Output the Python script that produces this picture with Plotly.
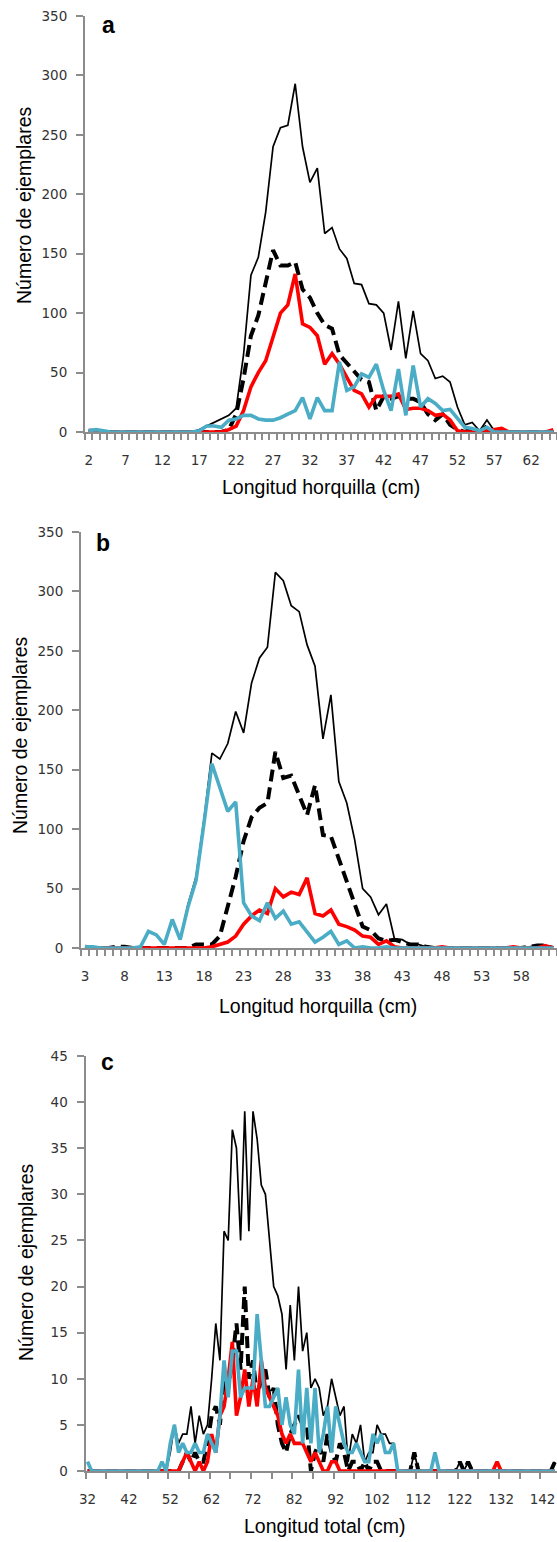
import plotly.graph_objects as go

# ---------------- Panel a (Longitud horquilla, 2..65 cm) ----------------
x_a = list(range(2, 66))
total_a = [2, 2, 0, 0, 0, 0, 0, 0, 0, 0,
           0, 0, 0, 0, 0, 2, 5, 8, 11, 14,
           20, 65, 132, 147, 185, 240, 256, 258, 293, 240,
           210, 222, 167, 172, 154, 146, 125, 124, 108, 107,
           100, 69, 110, 62, 102, 66, 60, 45, 47, 42,
           21, 6, 8, 1, 10, 1, 2, 0, 0, 0,
           0, 0, 0, 1]
dashed_a = [0, 0, 0, 0, 0, 0, 0, 0, 0, 0,
            0, 0, 0, 0, 0, 0, 0, 0, 0, 2,
            15, 45, 81, 98, 125, 153, 140, 140, 143, 120,
            113, 100, 90, 87, 65, 58, 52, 44, 42, 18,
            30, 28, 30, 28, 28, 25, 15, 10, 15, 6,
            2, 0, 3, 0, 5, 0, 0, 0, 0, 0,
            0, 0, 0, 0]
red_a = [0, 0, 0, 0, 0, 0, 0, 0, 0, 0,
         0, 0, 0, 0, 0, 0, 0, 0, 0, 2,
         5, 18, 38, 50, 60, 80, 100, 107, 133, 91,
         88, 81, 57, 66, 57, 46, 35, 32, 21, 30,
         30, 30, 32, 19, 20, 20, 18, 14, 15, 10,
         1, 0, 0, 0, 1, 2, 3, 0, 0, 0,
         0, 0, 0, 2]
cyan_a = [1, 2, 1, 0, 0, 0, 0, 0, 0, 0,
          0, 0, 0, 0, 0, 1, 5, 5, 4, 10,
          11, 14, 14, 11, 10, 10, 12, 15, 18, 29,
          11, 29, 18, 18, 59, 35, 38, 49, 46, 57,
          35, 18, 53, 14, 56, 21, 28, 24, 18, 19,
          11, 4, 3, 1, 4, 0, 0, 0, 0, 0,
          0, 0, 0, 0]
ticks_a = [2, 7, 12, 17, 22, 27, 32, 37, 42, 47, 52, 57, 62]

# ---------------- Panel b (Longitud horquilla, 3..62 cm) ----------------
x_b = list(range(3, 63))
total_b = [1, 1, 0, 0, 0, 0, 0, 1, 14, 11,
           3, 24, 7, 37, 60, 108, 164, 159, 172, 199,
           181, 223, 244, 253, 316, 309, 288, 283, 255, 237,
           176, 213, 140, 122, 91, 50, 43, 28, 37, 8,
           7, 3, 3, 1, 0, 0, 0, 0, 0, 0,
           0, 0, 0, 0, 0, 0, 1, 2, 2, 0]
dashed_b = [1, 0, 0, 0, 1, 1, 0, 0, 0, 0,
            0, 0, 0, 0, 3, 3, 3, 10, 35, 60,
            90, 110, 118, 122, 165, 143, 145, 128, 112, 137,
            95, 94, 75, 55, 35, 18, 15, 8, 6, 7,
            5, 3, 3, 1, 0, 0, 0, 0, 0, 0,
            0, 0, 0, 0, 0, 0, 1, 2, 2, 0]
red_b = [0, 0, 0, 0, 0, 0, 0, 0, 0, 0,
         0, 0, 0, 0, 0, 0, 1, 3, 5, 10,
         20, 27, 32, 29, 50, 43, 47, 45, 59, 29,
         27, 32, 20, 18, 15, 10, 9, 3, 6, 1,
         0, 0, 0, 0, 0, 1, 0, 0, 0, 0,
         0, 0, 0, 0, 1, 0, 0, 0, 2, 0]
cyan_b = [1, 1, 0, 0, 0, 0, 0, 1, 14, 11,
          3, 24, 7, 35, 57, 105, 155, 135, 115, 123,
          38, 27, 23, 38, 25, 31, 20, 22, 13, 5,
          9, 14, 3, 6, 0, 1, 0, 0, 1, 0,
          0, 0, 0, 0, 0, 0, 0, 0, 0, 0,
          0, 0, 0, 0, 0, 0, 0, 0, 0, 0]
ticks_b = [3, 8, 13, 18, 23, 28, 33, 38, 43, 48, 53, 58]

# ---------------- Panel c (Longitud total, 32..145 cm) ----------------
x_c = list(range(32, 146))
total_c = [1, 0, 0, 0, 0, 0, 0, 0, 0, 0,
           0, 0, 0, 0, 0, 0, 0, 0, 1, 0,
           2, 5, 3, 4, 4, 7, 3, 6, 4, 5,
           10, 16, 12, 26, 25, 37, 35, 25, 39, 26,
           39, 36, 31, 30, 25, 20, 19, 17, 11, 18,
           12, 20, 13, 15, 9, 10, 9, 6, 7, 10,
           8, 6, 7, 1, 4, 3, 5, 1, 2, 2,
           5, 4, 4, 3, 3, 0, 0, 0, 0, 2,
           0, 0, 0, 0, 2, 0, 0, 0, 0, 0,
           1, 0, 1, 0, 0, 0, 0, 0, 0, 1,
           0, 0, 0, 0, 0, 0, 0, 0, 0, 0,
           0, 0, 0, 1]
dashed_c = [0, 0, 0, 0, 0, 0, 0, 0, 0, 0,
            0, 0, 0, 0, 0, 0, 0, 0, 0, 0,
            0, 0, 0, 1, 2, 1, 2, 1, 1, 3,
            6, 7, 5, 10, 9, 12, 16, 11, 20, 10,
            12, 8, 10, 11, 8, 9, 5, 3, 2, 4,
            5, 6, 5, 5, 0, 2, 3, 1, 4, 2,
            1, 3, 2, 0, 1, 1, 0, 1, 0, 1,
            1, 0, 0, 0, 0, 0, 0, 0, 0, 2,
            0, 0, 0, 0, 0, 0, 0, 0, 0, 0,
            1, 0, 1, 0, 0, 0, 0, 0, 0, 0,
            0, 0, 0, 0, 0, 0, 0, 0, 0, 0,
            0, 0, 0, 1]
red_c = [0, 0, 0, 0, 0, 0, 0, 0, 0, 0,
         0, 0, 0, 0, 0, 0, 0, 0, 0, 0,
         0, 0, 0, 1, 2, 1, 0, 1, 0, 1,
         4, 2, 6, 7, 10, 14, 6, 8, 11, 7,
         10, 7, 12, 9, 8, 7, 6, 4, 3, 4,
         3, 3, 3, 2, 1, 2, 1, 0, 0, 1,
         1, 0, 0, 0, 0, 0, 0, 0, 0, 0,
         0, 0, 0, 0, 0, 0, 0, 0, 0, 0,
         0, 0, 0, 0, 0, 0, 0, 0, 0, 0,
         0, 0, 0, 0, 0, 0, 0, 0, 0, 1,
         0, 0, 0, 0, 0, 0, 0, 0, 0, 0,
         0, 0, 0, 0]
cyan_c = [1, 0, 0, 0, 0, 0, 0, 0, 0, 0,
          0, 0, 0, 0, 0, 0, 0, 0, 1, 0,
          3, 5, 2, 3, 2, 2, 3, 2, 2, 4,
          3, 2, 6, 12, 8, 13, 13, 8, 9, 9,
          9, 17, 12, 7, 7, 8, 9, 5, 8, 5,
          4, 11, 3, 9, 3, 9, 2, 4, 7, 2,
          7, 5, 3, 2, 2, 3, 2, 1, 1, 4,
          3, 4, 2, 2, 3, 0, 0, 0, 0, 0,
          0, 0, 0, 0, 2, 0, 0, 0, 0, 0,
          0, 0, 0, 0, 0, 0, 0, 0, 0, 0,
          0, 0, 0, 0, 0, 0, 0, 0, 0, 0,
          0, 0, 0, 0]
ticks_c = [32, 42, 52, 62, 72, 82, 92, 102, 112, 122, 132, 142]

panel_letters = ["a", "b", "c"]
x_titles = ["Longitud horquilla (cm)", "Longitud horquilla (cm)", "Longitud total (cm)"]
y_title = "Número de ejemplares"

# ---------------- Figure ----------------
W, H = 557, 1542
ML, MR, MT, MB = 81, 0, 16, 71
PW, PH = W - ML - MR, H - MT - MB


def px_x(p):
    return (p - ML) / PW


def px_y(p):
    return (H - MB - p) / PH


panels = [
    dict(x=x_a, series=(total_a, dashed_a, red_a, cyan_a), ticks=ticks_a,
         xr=[1.5, 65.5], yr=[0, 350], dy=50, left=85, top=16, bottom=432, mdt=1),
    dict(x=x_b, series=(total_b, dashed_b, red_b, cyan_b), ticks=ticks_b,
         xr=[2.5, 62.5], yr=[0, 350], dy=50, left=81, top=532, bottom=948, mdt=1),
    dict(x=x_c, series=(total_c, dashed_c, red_c, cyan_c), ticks=ticks_c,
         xr=[31.5, 145.5], yr=[0, 45], dy=5, left=85.5, top=1056, bottom=1471, mdt=5),
]

styles = [
    dict(color="#000000", width=1.7, dash="solid"),
    dict(color="#000000", width=4, dash="12px,6px"),
    dict(color="#FF0000", width=3.6, dash="solid"),
    dict(color="#4BACC6", width=3.6, dash="solid"),
]

fig = go.Figure()
tick_font = dict(family="DejaVu Sans", size=13.5, color="#333333")
title_font = dict(family="Liberation Sans, Arial", size=19.5, color="#000000")

annotations = []
x_title_pos = [(321, 487), (318, 1006), (325, 1526)]
y_title_pos = [(24, 205), (20, 735), (26, 1262)]
letter_pos = [(108, 25), (103, 543), (107, 1062)]

for i, p in enumerate(panels):
    n = "" if i == 0 else str(i + 1)
    for s, st in zip(p["series"], styles):
        fig.add_trace(go.Scatter(
            x=p["x"], y=s, mode="lines", cliponaxis=False, showlegend=False,
            line=dict(color=st["color"], width=st["width"], dash=st["dash"]),
            xaxis="x" + n, yaxis="y" + n, hoverinfo="skip"))
    fig.layout["xaxis" + n] = dict(
        domain=[px_x(p["left"]), 1.0], range=p["xr"], anchor="y" + n,
        automargin=False,
        tickmode="array", tickvals=p["ticks"], ticktext=[str(t) for t in p["ticks"]],
        ticks="outside", ticklen=15, tickcolor="rgba(0,0,0,0)",
        minor=dict(tickmode="linear", tick0=p["xr"][0], dtick=p["mdt"], ticks="outside",
                   ticklen=6, tickwidth=1.5, tickcolor="#8c8c8c", showgrid=False),
        showline=True, linecolor="#8c8c8c", linewidth=2, showgrid=False,
        zeroline=False, tickfont=tick_font, layer="below traces", fixedrange=True)
    fig.layout["yaxis" + n] = dict(
        domain=[px_y(p["bottom"]), px_y(p["top"])], range=p["yr"], anchor="x" + n,
        automargin=False,
        tickmode="linear", tick0=0, dtick=p["dy"], ticks="outside", ticklen=7,
        tickwidth=1.5, tickcolor="#8c8c8c", ticklabelstandoff=6,
        showline=True, linecolor="#8c8c8c", linewidth=2, showgrid=False,
        zeroline=False, tickfont=tick_font, layer="below traces", fixedrange=True)
    tx, ty = x_title_pos[i]
    annotations.append(dict(text=x_titles[i], x=px_x(tx), y=px_y(ty), xref="paper", yref="paper",
                            showarrow=False, font=title_font, xanchor="center", yanchor="middle"))
    yx, yy = y_title_pos[i]
    annotations.append(dict(text=y_title, x=px_x(yx), y=px_y(yy), xref="paper", yref="paper",
                            showarrow=False, font=title_font, textangle=-90,
                            xanchor="center", yanchor="middle"))
    lx, ly = letter_pos[i]
    annotations.append(dict(text="<b>" + panel_letters[i] + "</b>", x=px_x(lx), y=px_y(ly),
                            xref="paper", yref="paper", showarrow=False,
                            font=dict(family="Liberation Sans, Arial", size=23, color="#000000"),
                            xanchor="center", yanchor="middle"))

fig.update_layout(
    width=W, height=H, autosize=False,
    margin=dict(l=ML, r=MR, t=MT, b=MB, pad=0, autoexpand=False),
    paper_bgcolor="white", plot_bgcolor="white",
    annotations=annotations, showlegend=False,
)

fig.write_html("out.html", config={"displayModeBar": False},
               post_script="document.body.style.margin='0px';document.body.style.padding='0px';"
                           "document.body.style.overflow='hidden';")
